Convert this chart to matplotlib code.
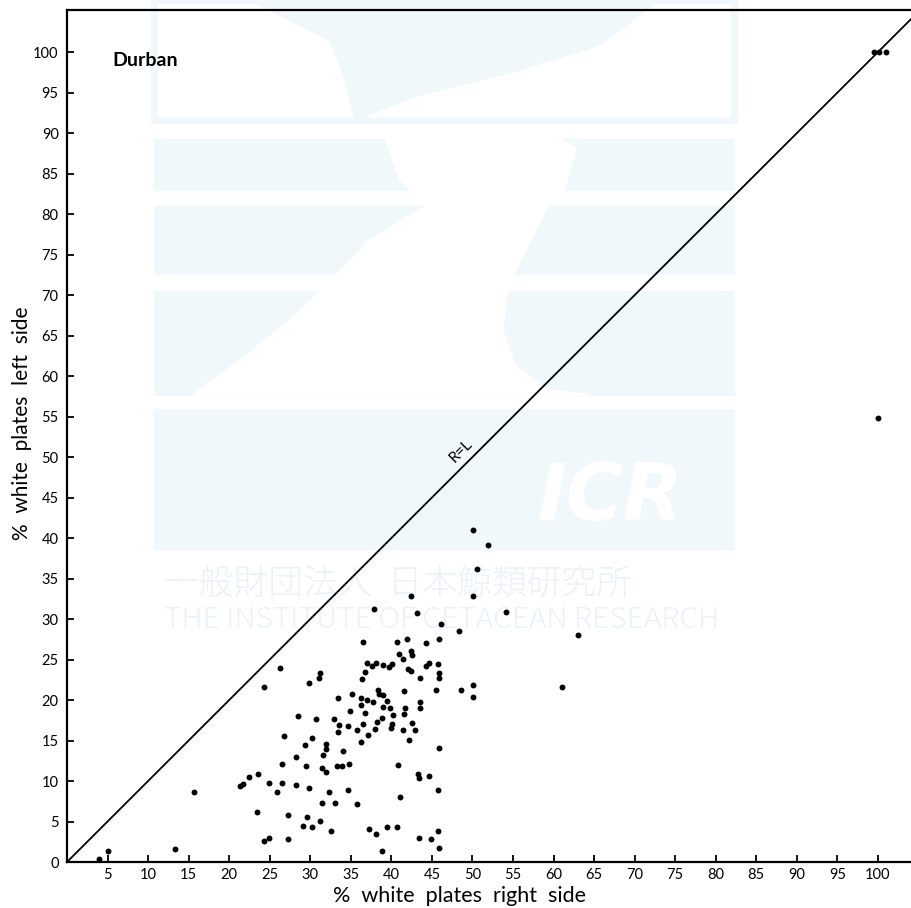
import numpy as np
import matplotlib.pyplot as plt
from matplotlib.patches import Rectangle, Polygon

# % white plates, right side (x) vs left side (y)
right_side = [
    4.0, 5.1, 13.3, 15.7, 21.3, 21.7, 23.4, 24.9, 25.9, 26.5, 28.3, 29.9,
    31.4, 32.3, 33.0, 34.6, 35.8, 27.2, 29.1, 29.6, 30.2, 31.2, 32.6, 24.3,
    24.9, 27.3, 37.3, 38.1, 39.5, 40.7, 41.1, 38.8, 43.4, 44.9, 45.7, 45.8,
    45.9,
    26.3, 24.3, 29.9, 31.2, 31.1, 33.4, 28.5, 30.7, 32.9, 33.5, 33.4, 26.8,
    30.2, 29.3, 31.9, 31.9, 31.6, 28.3, 26.5, 29.5, 31.5, 31.9, 33.3, 23.5,
    22.4,
    36.5, 40.7, 41.9, 44.3, 45.9, 41.0, 42.4, 42.5, 41.4, 44.6, 44.3, 45.7,
    37.0, 37.6, 38.1, 39.0, 39.7, 40.1, 42.0, 42.4, 36.7, 36.4, 43.5, 45.9,
    45.9, 45.5, 48.6, 50.1, 50.1, 41.6, 38.4, 38.5, 39.0, 35.1, 36.2, 37.0,
    37.7, 39.5, 36.3, 39.0, 39.8, 43.5, 43.5, 41.7, 34.9, 36.8, 41.6, 40.2,
    38.8, 38.2, 42.5, 40.1, 39.9, 34.6, 36.5, 35.7, 38.0, 41.4, 42.9, 37.1,
    36.3, 42.2, 45.9, 34.0, 33.9, 34.8, 40.8, 43.3, 43.4, 44.6,
    50.1, 51.9, 50.6, 50.1, 42.4, 37.9, 43.2, 46.1, 48.3, 54.1, 63.0, 61.1,
    99.5, 100.1, 101.0, 100.0,
]
left_side = [
    0.4, 1.4, 1.6, 8.6, 9.4, 9.6, 6.2, 9.8, 8.7, 9.8, 9.5, 9.1,
    7.3, 8.6, 7.3, 8.9, 7.2, 5.8, 4.5, 5.5, 4.3, 5.1, 3.8, 2.6,
    3.0, 2.9, 4.1, 3.5, 4.3, 4.3, 8.0, 1.3, 3.0, 2.9, 3.8, 8.9,
    1.7,
    23.9, 21.6, 22.1, 23.3, 22.7, 20.3, 18.0, 17.7, 17.6, 16.9, 16.0, 15.6,
    15.3, 14.5, 14.6, 13.9, 13.2, 13.0, 12.1, 11.8, 11.6, 11.1, 11.8, 10.9,
    10.5,
    27.2, 27.2, 27.5, 27.0, 27.5, 25.7, 26.0, 25.5, 25.1, 24.6, 24.2, 24.4,
    24.6, 24.2, 24.6, 24.3, 24.1, 24.4, 23.8, 23.6, 23.4, 22.6, 22.7, 23.3,
    22.7, 21.2, 21.2, 21.9, 20.4, 21.1, 21.2, 20.7, 20.6, 20.7, 20.2, 20.0,
    19.7, 19.9, 19.4, 19.2, 19.0, 19.7, 19.0, 19.0, 18.7, 18.4, 18.3, 18.2,
    17.8, 17.3, 17.2, 17.0, 16.5, 16.8, 17.0, 16.3, 16.4, 16.3, 16.3, 15.7,
    14.8, 15.1, 14.1, 13.7, 11.8, 12.1, 12.0, 10.9, 10.4, 10.6,
    41.0, 39.2, 36.2, 32.9, 32.8, 31.2, 30.8, 29.4, 28.5, 30.9, 28.0, 21.6,
    100.0, 100.0, 100.0, 54.8,
]

x_ticks = list(range(5, 105, 5))
y_ticks = list(range(0, 105, 5))

plt.rcParams['font.family'] = ['Lato', 'DejaVu Sans']

W, H = 912, 908
fig = plt.figure(figsize=(W / 100, H / 100), dpi=100)
fig.patch.set_facecolor('white')


# watermark helper: image pixel -> figure fraction
def px(x, y):
    return (x / W, 1 - y / H)


wm = '#f1f8fc'
wm_txt = '#e8f2f8'
# bands
for y0, y1 in [(139, 190), (206, 274), (291, 395), (409, 549)]:
    x0, _ = px(154, 0)
    x1, _ = px(734, 0)
    _, fy1 = px(0, y1)
    _, fy0 = px(0, y0)
    fig.patches.append(Rectangle((x0, fy1), x1 - x0, fy0 - fy1,
                                 transform=fig.transFigure, color=wm, zorder=-2))
# top frame
x0, fy1 = px(154, 120)
x1, fy0 = px(734, 0)
fig.patches.append(Rectangle((x0, fy1), x1 - x0, fy0 - fy1, transform=fig.transFigure,
                             fill=False, edgecolor=wm, linewidth=5, zorder=-2))
tail = [px(x, y) for x, y in [(250, 0), (330, 40), (345, 80), (355, 120),
                              (420, 95), (520, 70), (600, 45), (660, 0)]]
fig.patches.append(Polygon(tail, closed=True, transform=fig.transFigure,
                           color=wm, zorder=-2))
# white body cut through the bands
body = [px(x, y) for x, y in [(576, 148), (565, 190), (548, 206), (514, 274),
                              (507, 291), (503, 330), (515, 365), (548, 390),
                              (590, 395), (193, 395), (240, 360), (290, 320),
                              (320, 291), (370, 240), (425, 206), (400, 180),
                              (385, 139), (560, 139)]]
fig.patches.append(Polygon(body, closed=True, transform=fig.transFigure,
                           color='white', zorder=-1))
fig.text(*px(537, 498), 'ICR', color='white', fontsize=56, fontweight='bold',
         fontstyle='italic', family='DejaVu Sans', ha='left', va='center', zorder=-1)
fig.text(*px(164, 584), '一般財団法人  日本鯨類研究所', color=wm_txt, fontsize=25,
         family=['Noto Sans CJK JP', 'DejaVu Sans'], fontweight='light',
         ha='left', va='center', zorder=-1)
fig.text(*px(164, 620), 'THE INSTITUTE OF CETACEAN RESEARCH', color=wm_txt,
         fontsize=21.5, family=['Noto Sans CJK JP', 'DejaVu Sans'], fontweight='light',
         ha='left', va='center', zorder=-1)

ax = fig.add_axes([67 / W, 46 / H, (W - 67) / W, 852 / H])
ax.patch.set_alpha(0)

ax.plot([0, 110], [0, 110], color='black', linewidth=1.3, zorder=2)
ax.scatter(right_side, left_side, s=18, color='black', zorder=3, linewidths=0)

ax.set_xlim(0, 104.2)
ax.set_ylim(0, 105.2)

ax.text(49.2, 50.2, 'R=L', rotation=45, rotation_mode='anchor', fontsize=11,
        ha='center', va='bottom')
ax.text(5.6, 99.0, 'Durban', fontsize=14, fontweight='bold', ha='left', va='center')

ax.set_xticks(x_ticks)
ax.set_yticks(y_ticks)
ax.tick_params(direction='in', length=5, width=1.3, labelsize=10.5)
ax.tick_params(axis='x', pad=4)
ax.tick_params(axis='y', pad=6)
ax.spines['right'].set_visible(False)
for s in ['left', 'bottom', 'top']:
    ax.spines[s].set_linewidth(1.6)

ax.set_xlabel('%  white  plates  right  side', fontsize=15.5)
ax.set_ylabel('%  white  plates  left  side', fontsize=15)
ax.xaxis.set_label_coords(0.465, -0.028)
ax.yaxis.set_label_coords(-0.042, 0.515)

fig.savefig('out.png', dpi=100)
